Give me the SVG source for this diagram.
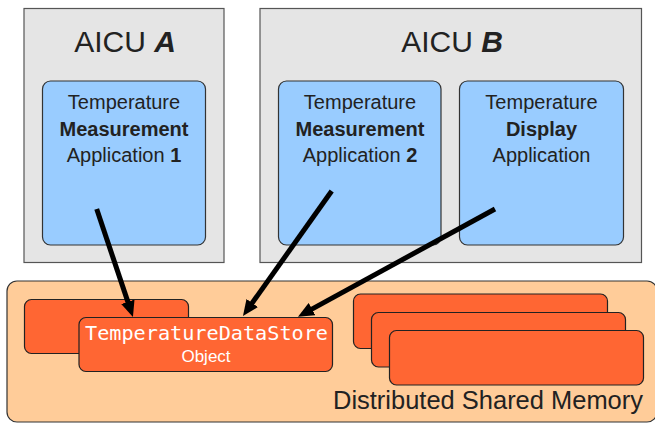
<svg xmlns="http://www.w3.org/2000/svg" width="655" height="424" viewBox="0 0 655 424">
  <style>
    .aicu { fill: #e5e5e5; stroke: #555; stroke-width: 1.2; }
    .app { fill: #99ccff; stroke: #333; stroke-width: 1.2; }
    .dsm { fill: #ffcc99; stroke: #333; stroke-width: 1.2; }
    .obj { fill: #ff6633; stroke: #222; stroke-width: 1.2; }
    .title { font-family: "Liberation Sans", Arial, sans-serif; font-size: 30px; fill: #222; text-anchor: middle; }
    .lbl { font-family: "Liberation Sans", Arial, sans-serif; font-size: 20px; fill: #222; text-anchor: middle; }
    .b { font-weight: bold; }
    .conn { stroke: #000; stroke-width: 5; fill: none; marker-end: url(#ah); }
  </style>
  <defs>
    <marker id="ah" viewBox="0 0 16 14" refX="8" refY="7" markerWidth="16" markerHeight="14" markerUnits="userSpaceOnUse" orient="auto">
      <path d="M0,0 L16,7 L0,14 z" fill="#000"/>
    </marker>
  </defs>

  <g id="aicuA">
    <rect class="aicu" x="24" y="8.5" width="200" height="254"/>
    <text class="title" x="125" y="52">AICU <tspan class="b" font-style="italic">A</tspan></text>
  </g>
  <g id="aicuB">
    <rect class="aicu" x="260" y="8.5" width="381.5" height="254"/>
    <text class="title" x="452" y="52">AICU <tspan class="b" font-style="italic">B</tspan></text>
  </g>
  <g id="app1">
    <rect class="app" x="42.5" y="81" width="163" height="164" rx="8"/>
    <text class="lbl" x="124" y="109">Temperature</text>
    <text class="lbl b" x="124" y="135.5">Measurement</text>
    <text class="lbl" x="124" y="162">Application <tspan class="b">1</tspan></text>
  </g>
  <g id="app2">
    <rect class="app" x="278.5" y="81" width="162.5" height="164" rx="8"/>
    <text class="lbl" x="360" y="109">Temperature</text>
    <text class="lbl b" x="360" y="135.5">Measurement</text>
    <text class="lbl" x="360" y="162">Application <tspan class="b">2</tspan></text>
  </g>
  <g id="app3">
    <rect class="app" x="459.5" y="81" width="164" height="164" rx="8"/>
    <text class="lbl" x="541.5" y="109">Temperature</text>
    <text class="lbl b" x="541.5" y="135.5">Display</text>
    <text class="lbl" x="541.5" y="162">Application</text>
  </g>

  <g id="dsm">
    <rect class="dsm" x="7" y="281" width="650" height="141" rx="10"/>
    <text x="643" y="409" font-family="'Liberation Sans', Arial, sans-serif" font-size="25" fill="#222" text-anchor="end" textLength="310" lengthAdjust="spacingAndGlyphs">Distributed Shared Memory</text>
  </g>
  <g id="objBack">
    <rect class="obj" x="24.5" y="299.5" width="164" height="54" rx="7"/>
  </g>
  <g id="tds">
    <rect class="obj" x="79" y="317.5" width="253.5" height="54" rx="7"/>
    <text x="206.5" y="340" font-family="'DejaVu Sans Mono', 'Liberation Mono', monospace" font-size="19" fill="#fff" text-anchor="middle" textLength="243" lengthAdjust="spacingAndGlyphs">TemperatureDataStore</text>
    <text x="206" y="361.5" font-family="'Liberation Sans', Arial, sans-serif" font-size="17" fill="#fff" text-anchor="middle">Object</text>
  </g>
  <g id="obj1">
    <rect class="obj" x="353.5" y="294" width="254" height="54.5" rx="7"/>
  </g>
  <g id="obj2">
    <rect class="obj" x="371.5" y="312.5" width="254" height="54.5" rx="7"/>
  </g>
  <g id="obj3">
    <rect class="obj" x="389.5" y="330.5" width="254" height="54.5" rx="7"/>
  </g>

  <g id="connectors">
    <line class="conn" x1="96.7" y1="209" x2="130.4" y2="309.4"/>
    <line class="conn" x1="331.7" y1="191" x2="247.6" y2="309.5"/>
    <line class="conn" x1="495" y1="209" x2="305" y2="312.9"/>
  </g>
</svg>
